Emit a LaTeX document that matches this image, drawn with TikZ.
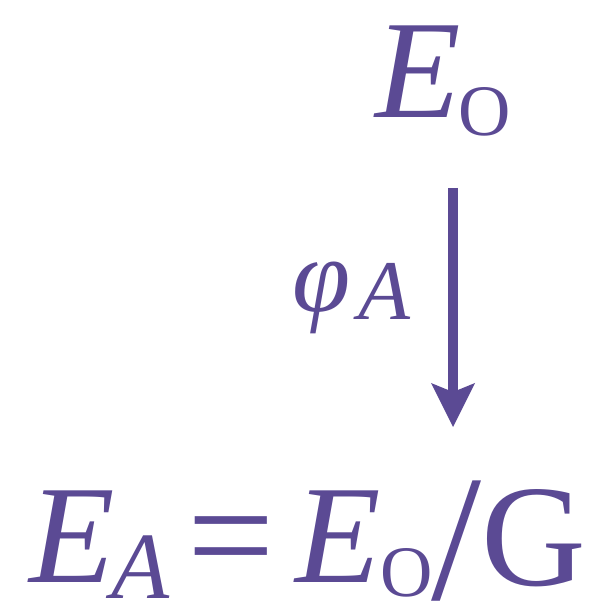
\documentclass[tikz,border=0pt]{standalone}
\usepackage{fontspec}
\newfontfamily\ser{Liberation Serif}
\usetikzlibrary{arrows.meta}
\definecolor{ink}{RGB}{91,74,148}
\newcommand{\gl}[2]{{\ser\fontsize{#1}{#1}\selectfont #2}}
\tikzset{
  g/.style={inner sep=0pt, outer sep=0pt, anchor=base, text=ink},
  maparrow/.style={draw=ink, line width=10pt,
    -{Stealth[length=44pt,width=44pt,inset=9pt,line width=0pt]}}
}
\begin{document}
\begin{tikzpicture}[x=1pt,y=1pt]
\useasboundingbox (0,0) rectangle (600,603);
% top E_O
\node[g] (Etop) at (418.5,485) {\gl{140}{\itshape E}};
\node[g] (Otop) at (485,467) {\gl{72.5}{O}};
% label phi_A
\node[g] (phi) at (322,291) {\gl{105}{\itshape φ}};
\node[g] (phiA) at (384.2,283) {\gl{85}{\itshape A}};
% bottom E_A = E_O / G
\node[g] (E1) at (72.5,20) {\gl{140}{\itshape E}};
\node[g] (A1) at (140.7,5) {\gl{95}{\itshape A}};
\node[g] (eq) at (231.5,16) {\gl{155}{=}};
\node[g] (E2) at (338.5,20) {\gl{140}{\itshape E}};
\node[g] (O2) at (407,6) {\gl{72.5}{O}};
\node[g] (sl) at (456.5,3.5) {\gl{180}{/}};
\node[g] (G) at (533.6,17) {\gl{145}{G}};
% arrow
\coordinate (astart) at (453,415);
\coordinate (aend) at (453,176);
\draw[maparrow] (astart) -- (aend);
\end{tikzpicture}
\end{document}
